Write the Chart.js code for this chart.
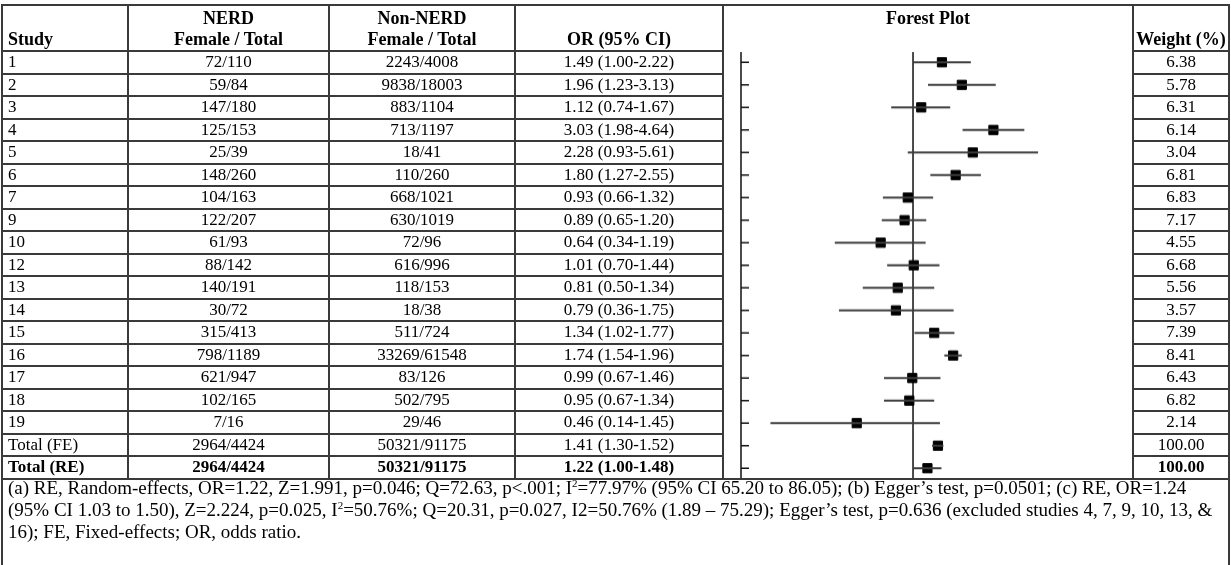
<!DOCTYPE html>
<html>
<head>
<meta charset="utf-8">
<script src="https://cdn.jsdelivr.net/npm/chart.js@4.4.0/dist/chart.umd.min.js"></script>
<style>
body { margin: 0; background: #fff; }
#wrap { position: relative; width: 1231px; height: 565px; overflow: hidden;
  font-family: 'Liberation Serif', 'Times New Roman', Times, serif; font-size: 17px; color: #000; }
.ln { position: absolute; background: #3a3a3a; }
.tx { position: absolute; white-space: nowrap; text-align: center; }
.b { font-weight: bold; }
.hd { font-weight: bold; font-size: 18px; }
#plot { position: absolute; }
#note { position: absolute; left: 8px; top: 477px; line-height: 22px; white-space: nowrap; font-size: 19px; }
sup { font-size: 11px; vertical-align: 7px; line-height: 0; }
</style>
</head>
<body>
<div id="wrap">
  <div id="plot"><canvas id="myCanvas"></canvas></div>
  <div id="note">(a) RE, Random-effects, OR=1.22, Z=1.991, p=0.046; Q=72.63, p&lt;.001; I<sup>2</sup>=77.97% (95% CI 65.20 to 86.05); (b) Egger’s test, p=0.0501; (c) RE, OR=1.24<br>(95% CI 1.03 to 1.50), Z=2.224, p=0.025, I<sup>2</sup>=50.76%; Q=20.31, p=0.027, I2=50.76% (1.89 – 75.29); Egger’s test, p=0.636 (excluded studies 4, 7, 9, 10, 13, &amp;<br>16); FE, Fixed-effects; OR, odds ratio.</div>
</div>
<script>
var studies = ['1','2','3','4','5','6','7','9','10','12','13','14','15','16','17','18','19','Total (FE)','Total (RE)'];
var nerd = ['72/110','59/84','147/180','125/153','25/39','148/260','104/163','122/207','61/93','88/142','140/191','30/72','315/413','798/1189','621/947','102/165','7/16','2964/4424','2964/4424'];
var nonNerd = ['2243/4008','9838/18003','883/1104','713/1197','18/41','110/260','668/1021','630/1019','72/96','616/996','118/153','18/38','511/724','33269/61548','83/126','502/795','29/46','50321/91175','50321/91175'];
var oddsRatio = [1.49,1.96,1.12,3.03,2.28,1.80,0.93,0.89,0.64,1.01,0.81,0.79,1.34,1.74,0.99,0.95,0.46,1.41,1.22];
var ciLow = [1.00,1.23,0.74,1.98,0.93,1.27,0.66,0.65,0.34,0.70,0.50,0.36,1.02,1.54,0.67,0.67,0.14,1.30,1.00];
var ciHigh = [2.22,3.13,1.67,4.64,5.61,2.55,1.32,1.20,1.19,1.44,1.34,1.75,1.77,1.96,1.46,1.34,1.45,1.52,1.48];
var weight = [6.38,5.78,6.31,6.14,3.04,6.81,6.83,7.17,4.55,6.68,5.56,3.57,7.39,8.41,6.43,6.82,2.14,100,100];

// table geometry
var colX = [2, 128, 329, 515, 723, 1133, 1229];
var topY = 5, headY = 51, rowH = 22.5;
var bottomY = headY + rowH * studies.length;
var wrap = document.getElementById('wrap');

function line(x, y, w, h) {
  var d = document.createElement('div');
  d.className = 'ln';
  d.style.left = x + 'px'; d.style.top = y + 'px';
  d.style.width = w + 'px'; d.style.height = h + 'px';
  wrap.appendChild(d);
}
function text(str, col, y, h, cls, left) {
  var d = document.createElement('div');
  d.className = 'tx' + (cls ? ' ' + cls : '');
  d.style.left = (colX[col] + (left ? 6 : 0)) + 'px';
  d.style.width = (colX[col + 1] - colX[col]) + 'px';
  d.style.top = y + 'px';
  d.style.height = h + 'px';
  d.style.lineHeight = h + 'px';
  if (left) d.style.textAlign = 'left';
  d.innerHTML = str;
  wrap.appendChild(d);
}

// borders
line(colX[0] - 1, topY - 1, colX[6] - colX[0] + 2, 2);
line(colX[0] - 1, topY, 2, 565);
line(colX[6] - 1, topY, 2, 565);
for (var c = 1; c < 6; c++) line(colX[c] - 1, topY, 2, bottomY - topY);
for (var r = 0; r <= studies.length; r++) {
  var y = Math.round(headY + r * rowH) - 1;
  if (r === studies.length) { line(colX[0], y, colX[6] - colX[0], 2); continue; }
  line(colX[0], y, colX[4] - colX[0], 2);
  line(colX[5], y, colX[6] - colX[5], 2);
}

// header
var h1 = 27, h2 = headY - topY - h1;
text('NERD', 1, topY, h1, 'hd');
text('Non-NERD', 2, topY, h1, 'hd');
text('Forest Plot', 4, topY, h1, 'hd');
text('Study', 0, topY + h1 - 4, h2 + 4, 'hd', true);
text('Female / Total', 1, topY + h1 - 4, h2 + 4, 'hd');
text('Female / Total', 2, topY + h1 - 4, h2 + 4, 'hd');
text('OR (95% CI)', 3, topY + h1 - 4, h2 + 4, 'hd');
text('Weight (%)', 5, topY + h1 - 4, h2 + 4, 'hd');

// rows
studies.forEach(function (s, i) {
  var y0 = headY + i * rowH;
  var cls = i === studies.length - 1 ? 'b' : '';
  text(s, 0, y0, rowH, cls, true);
  text(nerd[i], 1, y0, rowH, cls);
  text(nonNerd[i], 2, y0, rowH, cls);
  text(oddsRatio[i].toFixed(2) + ' (' + ciLow[i].toFixed(2) + '-' + ciHigh[i].toFixed(2) + ')', 3, y0, rowH, cls);
  text(weight[i].toFixed(2), 5, y0, rowH, cls);
});

// forest plot area
var plot = document.getElementById('plot');
plot.style.left = '740px';
plot.style.top = headY + 'px';
plot.style.width = '385px';
plot.style.height = (bottomY - headY) + 'px';

var ciData = [];
studies.forEach(function (s, i) {
  ciData.push({ x: ciLow[i], y: s }, { x: ciHigh[i], y: s }, { x: null, y: s });
});
var pointData = oddsRatio.map(function (v, i) { return { x: v, y: studies[i] }; });

var axisLines = {
  id: 'axisLines',
  beforeDatasetsDraw: function (chart) {
    var ctx = chart.ctx, a = chart.chartArea;
    var xs = chart.scales.x, ys = chart.scales.y;
    ctx.save();
    ctx.strokeStyle = '#111';
    ctx.lineWidth = 1.5;
    ctx.beginPath();
    var x0 = a.left + 1;
    ctx.moveTo(x0, a.top + 1); ctx.lineTo(x0, a.bottom);
    studies.forEach(function (s, i) {
      var y = ys.getPixelForValue(i);
      ctx.moveTo(x0, y); ctx.lineTo(x0 + 8, y);
    });
    var x1 = xs.getPixelForValue(1);
    ctx.moveTo(x1, a.top + 1); ctx.lineTo(x1, a.bottom);
    ctx.stroke();
    ctx.restore();
  }
};

var myCanvas = document.querySelector('#myCanvas').getContext('2d');
var chart = new Chart(myCanvas, {
  type: 'scatter',
  data: {
    labels: studies,
    datasets: [
      {
        label: 'CI',
        data: ciData,
        showLine: true,
        spanGaps: false,
        borderColor: '#3c3c3c',
        borderWidth: 1.8,
        pointRadius: 0,
        clip: false
      },
      {
        label: 'OR',
        data: pointData,
        pointStyle: 'rect',
        pointRadius: 6.5,
        backgroundColor: '#000',
        borderColor: '#000',
        borderWidth: 1,
        clip: false
      }
    ]
  },
  options: {
    responsive: true,
    maintainAspectRatio: false,
    animation: false,
    events: [],
    layout: { padding: 0, autoPadding: false },
    scales: {
      x: { type: 'logarithmic', min: 0.092, max: 18.6, display: false },
      y: { type: 'category', labels: studies, offset: true, display: false }
    },
    plugins: { legend: { display: false }, tooltip: { enabled: false } }
  },
  plugins: [axisLines]
});
</script>
</body>
</html>
